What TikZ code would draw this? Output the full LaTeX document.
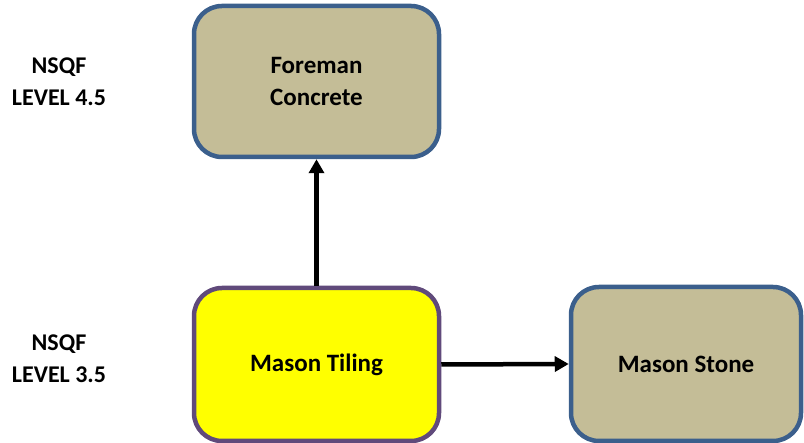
\documentclass[tikz,border=0pt]{standalone}
\usepackage{fontspec}
\setmainfont{Carlito}
\usetikzlibrary{arrows.meta}
\definecolor{tanfill}{HTML}{C4BD97}
\definecolor{blueline}{HTML}{3B5F8C}
\definecolor{purpleline}{HTML}{604A7B}
\definecolor{tileyellow}{HTML}{FFFF00}
\tikzset{
  x=1pt, y=1pt,
  box/.style={rectangle, rounded corners=28pt, line width=4.5pt, minimum width=245pt,
    align=center, font=\bfseries\fontsize{25}{32}\selectfont},
  tanbox/.style={box, draw=blueline, fill=tanfill},
  tilebox/.style={box, draw=purpleline, fill=tileyellow},
  level/.style={align=center, font=\bfseries\fontsize{24}{32}\selectfont},
  link/.style={line width=4.5pt, -{Triangle[length=14pt, width=15pt]}}
}
\begin{document}
\begin{tikzpicture}
\useasboundingbox (0,0) rectangle (804,443);
\node[tanbox, minimum height=151pt] (foreman) at (316.5,361.5) {Foreman\\Concrete};
\node[tilebox, minimum height=153pt] (tiling) at (316.5,78.5) {Mason Tiling};
\node[tanbox, minimum height=154pt, minimum width=230pt] (stone) at (686,79) {Mason Stone};
\node[level] (lvlhigh) at (59,361) {NSQF\\LEVEL 4.5};
\node[level] (lvllow) at (59,84) {NSQF\\LEVEL 3.5};
\draw[link] (tiling.north) -- (foreman.south);
\draw[link] (tiling.east) -- (stone.west);
\end{tikzpicture}
\end{document}
